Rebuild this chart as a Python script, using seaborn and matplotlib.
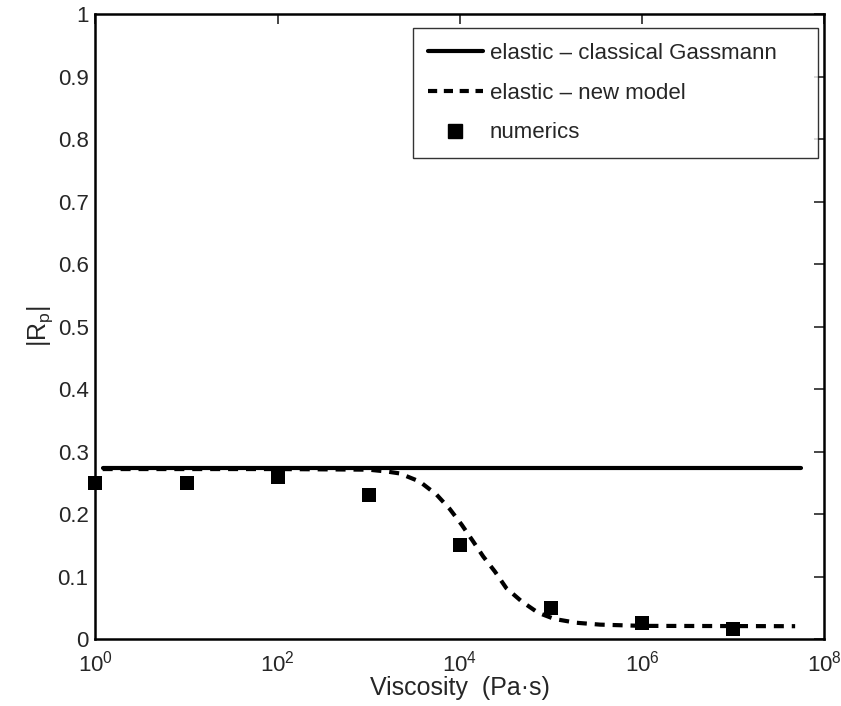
import matplotlib
matplotlib.use("Agg")
import matplotlib.pyplot as plt
import seaborn as sns
import pandas as pd
import numpy as np
from matplotlib.lines import Line2D

# Data
gassmann_x = [1.2, 5.6e7]
gassmann_y = [0.273, 0.273]

model_x = [1.2, 10, 100, 1000, 10**3.2, 10**3.34, 10**3.56, 10**3.745, 10**3.89, 10**4.02,
           10**4.147, 10**4.257, 10**4.385, 10**4.51, 10**4.68, 10**4.86, 10**5.04,
           10**5.28, 10**5.54, 1e6, 4.8e7]
model_y = [0.272, 0.272, 0.272, 0.271, 0.268, 0.265, 0.252, 0.231, 0.208, 0.183,
           0.156, 0.132, 0.108, 0.0815, 0.060, 0.042, 0.032,
           0.026, 0.023, 0.021, 0.0205]

num_x = [1, 10, 100, 1000, 1e4, 1e5, 1e6, 1e7]
num_y = [0.25, 0.25, 0.26, 0.23, 0.15, 0.05, 0.025, 0.016]

y_ticks = [0, 0.1, 0.2, 0.3, 0.4, 0.5, 0.6, 0.7, 0.8, 0.9, 1]
y_ticklabels = ["0", "0.1", "0.2", "0.3", "0.4", "0.5", "0.6", "0.7", "0.8", "0.9", "1"]
x_ticks = [1, 1e2, 1e4, 1e6, 1e8]
x_ticklabels = [r"10$^{0}$", r"10$^{2}$", r"10$^{4}$", r"10$^{6}$", r"10$^{8}$"]

sns.set_style("white")
plt.rcParams['font.family'] = ['Liberation Sans', 'DejaVu Sans']
plt.rcParams['mathtext.fontset'] = 'custom'
plt.rcParams['mathtext.rm'] = 'Liberation Sans'
plt.rcParams['mathtext.it'] = 'Liberation Sans'
plt.rcParams['mathtext.default'] = 'regular'

fig = plt.figure(figsize=(8.41, 7.06), dpi=100)
ax = fig.add_axes([0.1135, 0.0949, 0.8665, 0.885])

df_g = pd.DataFrame({"x": gassmann_x, "y": gassmann_y})
df_m = pd.DataFrame({"x": model_x, "y": model_y})
df_n = pd.DataFrame({"x": num_x, "y": num_y})

DASH = [2.4, 1.9]
sns.lineplot(data=df_g, x="x", y="y", ax=ax, color="black", lw=3.0, sort=False)
sns.lineplot(data=df_m, x="x", y="y", ax=ax, color="black", lw=3.0, sort=False)
ax.lines[-1].set_dashes(DASH)
ax.lines[-1].set_dash_capstyle("butt")
sns.scatterplot(data=df_n, x="x", y="y", ax=ax, color="black", marker="s", s=100,
                edgecolor="black", linewidth=0, zorder=5, clip_on=False)

ax.set_xscale("log")
ax.set_xlim(1, 1e8)
ax.set_ylim(0, 1)
ax.set_xticks(x_ticks)
ax.set_xticklabels(x_ticklabels)
ax.set_yticks(y_ticks)
ax.set_yticklabels(y_ticklabels)
ax.xaxis.set_minor_locator(matplotlib.ticker.NullLocator())

ax.tick_params(direction="in", length=7, width=1.2, top=True, right=True,
               labelsize=16, pad=5)
ax.tick_params(axis="x", pad=8)
for sp in ax.spines.values():
    sp.set_visible(True)
    sp.set_linewidth(1.8)
    sp.set_color("black")

ax.set_xlabel("Viscosity  (Pa·s)", fontsize=18, labelpad=0)
ax.set_ylabel("|R$_\\mathregular{p}$|", fontsize=18, labelpad=2)

handles = [
    Line2D([], [], color="black", lw=3.0),
    Line2D([], [], color="black", lw=3.0, dashes=[2.2, 1.6], dash_capstyle="butt"),
    Line2D([], [], color="black", marker="s", ls="none", markersize=10),
]
labels = ["elastic – classical Gassmann", "elastic – new model", "numerics"]
leg = ax.legend(handles, labels, loc="upper left",
                bbox_to_anchor=(0.436, 0.7744, 0.556, 0.2032), mode="expand",
                fontsize=16, frameon=True, fancybox=False, edgecolor="black",
                handlelength=2.5, handletextpad=0.3, labelspacing=0.85,
                borderpad=0.65, borderaxespad=0)
leg.get_frame().set_linewidth(1.0)

fig.savefig("out.png", dpi=100)
